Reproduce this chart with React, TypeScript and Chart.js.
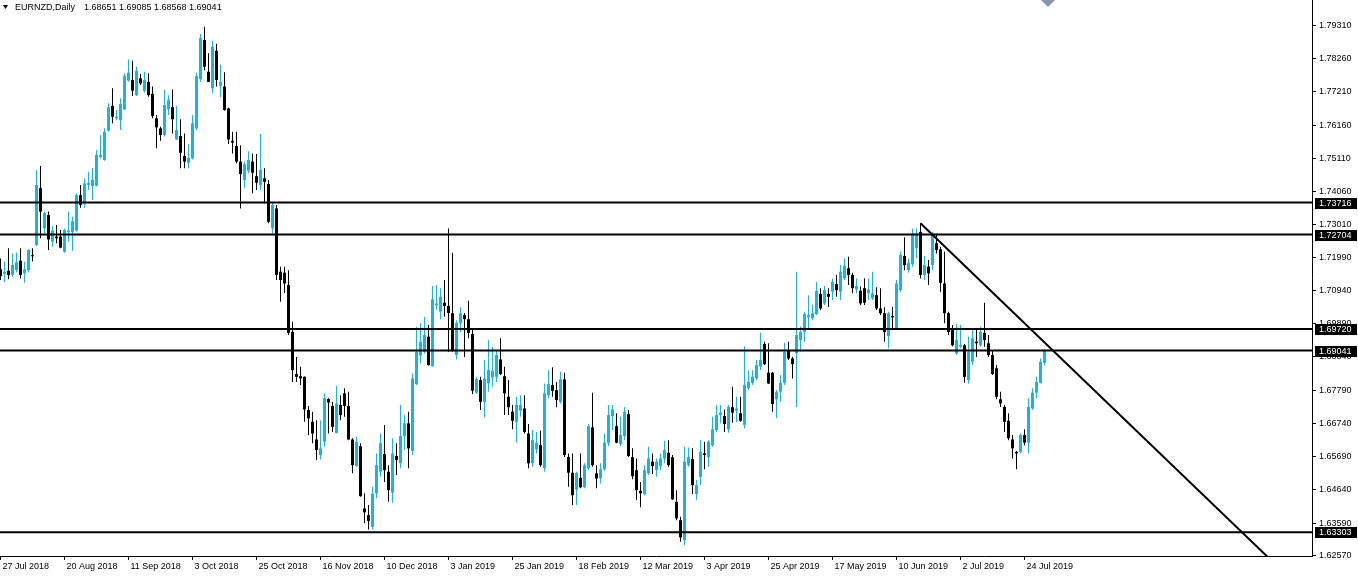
import React, { useEffect, useRef } from 'react';
import { Chart, registerables } from 'chart.js';

Chart.register(...registerables);

const symbolTitle = 'EURNZD,Daily';
const lastQuote = ['1.68651', '1.69085', '1.68568', '1.69041'];

const opens = [
  1.7161, 1.7146, 1.7156, 1.7143, 1.7158, 1.7188, 1.7148, 1.7158, 1.7205, 1.7237,
  1.7417, 1.7290, 1.7332, 1.7248, 1.7264, 1.7264, 1.7216, 1.7278, 1.7279, 1.7283,
  1.7395, 1.7369, 1.7427, 1.7424, 1.7425, 1.7515, 1.7506, 1.7599, 1.7677, 1.7638,
  1.7632, 1.7666, 1.7757, 1.7759, 1.7711, 1.7764, 1.7725, 1.7753, 1.7715, 1.7638,
  1.7606, 1.7585, 1.7666, 1.7673, 1.7571, 1.7582, 1.7519, 1.7497, 1.7511, 1.7606,
  1.7761, 1.7885, 1.7785, 1.7733, 1.7851, 1.7740, 1.7738, 1.7669, 1.7566, 1.7550,
  1.7501, 1.7443, 1.7472, 1.7501, 1.7455, 1.7427, 1.7448, 1.7430, 1.7291, 1.7353,
  1.7153, 1.7150, 1.7111, 1.6963, 1.6830, 1.6823, 1.6821, 1.6716, 1.6679, 1.6623,
  1.6574, 1.6616, 1.6751, 1.6729, 1.6644, 1.6732, 1.6769, 1.6729, 1.6623, 1.6539,
  1.6602, 1.6405, 1.6384, 1.6347, 1.6453, 1.6521, 1.6577, 1.6521, 1.6455, 1.6571,
  1.6548, 1.6634, 1.6674, 1.6587, 1.6798, 1.6888, 1.6900, 1.6948, 1.6855, 1.7047,
  1.7027, 1.7055, 1.7045, 1.7022, 1.6890, 1.6990, 1.7016, 1.7003, 1.6956, 1.6771,
  1.6811, 1.6742, 1.6800, 1.6819, 1.6821, 1.6876, 1.6823, 1.6758, 1.6711, 1.6679,
  1.6714, 1.6721, 1.6642, 1.6548, 1.6592, 1.6605, 1.6532, 1.6763, 1.6795, 1.6779,
  1.6742, 1.6813, 1.6568, 1.6518, 1.6465, 1.6502, 1.6472, 1.6532, 1.6661, 1.6516,
  1.6500, 1.6529, 1.6611, 1.6697, 1.6665, 1.6609, 1.6634, 1.6703, 1.6567, 1.6526,
  1.6461, 1.6451, 1.6516, 1.6553, 1.6526, 1.6539, 1.6563, 1.6581, 1.6567, 1.6426,
  1.6368, 1.6305, 1.6542, 1.6561, 1.6451, 1.6505, 1.6579, 1.6567, 1.6605, 1.6653,
  1.6700, 1.6697, 1.6655, 1.6725, 1.6714, 1.6706, 1.6669, 1.6785, 1.6802, 1.6816,
  1.6853, 1.6925, 1.6834, 1.6834, 1.6750, 1.6774, 1.6802, 1.6903, 1.6879, 1.6895,
  1.6937, 1.6963, 1.7009, 1.7006, 1.7019, 1.7083, 1.7053, 1.7083, 1.7090, 1.7114,
  1.7090, 1.7132, 1.7164, 1.7143, 1.7097, 1.7093, 1.7101, 1.7085, 1.7069, 1.7079,
  1.7037, 1.7022, 1.6950, 1.7013, 1.6974, 1.7095, 1.7203, 1.7158, 1.7177, 1.7227,
  1.7279, 1.7143, 1.7169, 1.7174, 1.7243, 1.7224, 1.7116, 1.7022, 1.6969, 1.6895,
  1.6916, 1.6921, 1.6811, 1.6869, 1.6932, 1.6921, 1.6960, 1.6927, 1.6890, 1.6848,
  1.6750, 1.6726, 1.6682, 1.6623, 1.6584, 1.6584, 1.6637, 1.6613, 1.6721, 1.6771,
  1.6802, 1.68651,
];

const highs = [
  1.7195, 1.7185, 1.7227, 1.7211, 1.7214, 1.7227, 1.7185, 1.7224, 1.7227, 1.7474,
  1.7487, 1.7343, 1.7343, 1.7297, 1.7301, 1.7285, 1.7290, 1.7343, 1.7327, 1.7401,
  1.7427, 1.7448, 1.7469, 1.7480, 1.7538, 1.7585, 1.7606, 1.7685, 1.7733, 1.7664,
  1.7701, 1.7780, 1.7824, 1.7820, 1.7801, 1.7778, 1.7785, 1.7780, 1.7738, 1.7648,
  1.7611, 1.7727, 1.7711, 1.7729, 1.7677, 1.7635, 1.7590, 1.7556, 1.7648, 1.7782,
  1.7904, 1.7927, 1.7843, 1.7883, 1.7873, 1.7806, 1.7783, 1.7671, 1.7595, 1.7595,
  1.7553, 1.7501, 1.7534, 1.7527, 1.7525, 1.7588, 1.7480, 1.7443, 1.7371, 1.7364,
  1.7169, 1.7169, 1.7158, 1.6995, 1.6884, 1.6853, 1.6823, 1.6729, 1.6711, 1.6684,
  1.6684, 1.6769, 1.6753, 1.6742, 1.6792, 1.6763, 1.6785, 1.6774, 1.6627, 1.6632,
  1.6611, 1.6453, 1.6416, 1.6474, 1.6579, 1.6642, 1.6669, 1.6542, 1.6627, 1.6611,
  1.6732, 1.6700, 1.6711, 1.6832, 1.6979, 1.6990, 1.7011, 1.6985, 1.7108, 1.7111,
  1.7101, 1.7127, 1.7290, 1.7213, 1.7000, 1.7041, 1.7023, 1.7061, 1.6969, 1.6821,
  1.6821, 1.6874, 1.6937, 1.6916, 1.6906, 1.6943, 1.6853, 1.6811, 1.6732, 1.6758,
  1.6763, 1.6763, 1.6672, 1.6653, 1.6647, 1.6651, 1.6800, 1.6842, 1.6851, 1.6805,
  1.6837, 1.6834, 1.6579, 1.6579, 1.6521, 1.6579, 1.6548, 1.6672, 1.6771, 1.6542,
  1.6548, 1.6642, 1.6732, 1.6732, 1.6706, 1.6695, 1.6726, 1.6716, 1.6595, 1.6563,
  1.6489, 1.6542, 1.6600, 1.6579, 1.6563, 1.6579, 1.6619, 1.6621, 1.6574, 1.6463,
  1.6379, 1.6600, 1.6598, 1.6595, 1.6495, 1.6621, 1.6616, 1.6621, 1.6695, 1.6732,
  1.6732, 1.6718, 1.6732, 1.6790, 1.6758, 1.6758, 1.6918, 1.6840, 1.6842, 1.6874,
  1.6960, 1.6932, 1.6927, 1.6836, 1.6779, 1.6827, 1.6929, 1.6932, 1.6884, 1.7153,
  1.6981, 1.7027, 1.7079, 1.7048, 1.7121, 1.7101, 1.7108, 1.7101, 1.7132, 1.7143,
  1.7174, 1.7195, 1.7200, 1.7150, 1.7132, 1.7106, 1.7132, 1.7132, 1.7153, 1.7104,
  1.7101, 1.7041, 1.7027, 1.7042, 1.7127, 1.7216, 1.7262, 1.7195, 1.7290, 1.7290,
  1.7306, 1.7203, 1.7190, 1.7279, 1.7274, 1.7232, 1.7216, 1.7027, 1.6985, 1.6988,
  1.6985, 1.6925, 1.6948, 1.6974, 1.6969, 1.6979, 1.7055, 1.6953, 1.6906, 1.6858,
  1.6774, 1.6732, 1.6706, 1.6637, 1.6587, 1.6642, 1.6655, 1.6753, 1.6785, 1.6821,
  1.6879, 1.69085,
];

const lows = [
  1.7127, 1.7121, 1.7129, 1.7137, 1.7151, 1.7132, 1.7118, 1.7151, 1.7185, 1.7234,
  1.7259, 1.7274, 1.7222, 1.7232, 1.7243, 1.7227, 1.7213, 1.7248, 1.7219, 1.7279,
  1.7355, 1.7355, 1.7411, 1.7380, 1.7422, 1.7511, 1.7504, 1.7595, 1.7622, 1.7632,
  1.7601, 1.7664, 1.7753, 1.7708, 1.7708, 1.7743, 1.7719, 1.7706, 1.7638, 1.7543,
  1.7567, 1.7580, 1.7648, 1.7590, 1.7569, 1.7480, 1.7480, 1.7480, 1.7508, 1.7601,
  1.7753, 1.7790, 1.7753, 1.7717, 1.7738, 1.7704, 1.7662, 1.7557, 1.7527, 1.7496,
  1.7353, 1.7417, 1.7464, 1.7401, 1.7411, 1.7411, 1.7369, 1.7306, 1.7274, 1.7127,
  1.7058, 1.7086, 1.6953, 1.6805, 1.6805, 1.6795, 1.6679, 1.6637, 1.6611, 1.6558,
  1.6560, 1.6600, 1.6642, 1.6647, 1.6642, 1.6684, 1.6695, 1.6621, 1.6516, 1.6537,
  1.6442, 1.6358, 1.6339, 1.6339, 1.6437, 1.6505, 1.6489, 1.6426, 1.6423, 1.6511,
  1.6532, 1.6590, 1.6532, 1.6574, 1.6795, 1.6864, 1.6895, 1.6856, 1.6853, 1.7032,
  1.7003, 1.7011, 1.6900, 1.6900, 1.6876, 1.6963, 1.6884, 1.6943, 1.6767, 1.6767,
  1.6716, 1.6693, 1.6774, 1.6790, 1.6805, 1.6827, 1.6700, 1.6700, 1.6655, 1.6613,
  1.6695, 1.6642, 1.6532, 1.6537, 1.6579, 1.6537, 1.6521, 1.6753, 1.6758, 1.6725,
  1.6737, 1.6568, 1.6474, 1.6416, 1.6416, 1.6469, 1.6469, 1.6526, 1.6537, 1.6469,
  1.6484, 1.6524, 1.6602, 1.6653, 1.6611, 1.6602, 1.6621, 1.6568, 1.6497, 1.6432,
  1.6409, 1.6447, 1.6511, 1.6514, 1.6505, 1.6526, 1.6548, 1.6537, 1.6432, 1.6368,
  1.6300, 1.6289, 1.6537, 1.6451, 1.6432, 1.6479, 1.6529, 1.6537, 1.6600, 1.6647,
  1.6674, 1.6647, 1.6644, 1.6676, 1.6679, 1.6679, 1.6658, 1.6779, 1.6795, 1.6811,
  1.6842, 1.6858, 1.6798, 1.6711, 1.6690, 1.6742, 1.6795, 1.6874, 1.6816, 1.6726,
  1.6900, 1.6932, 1.6969, 1.7000, 1.7016, 1.7032, 1.7048, 1.7042, 1.7064, 1.7074,
  1.7064, 1.7127, 1.7111, 1.7085, 1.7085, 1.7048, 1.7048, 1.7064, 1.7064, 1.7032,
  1.7016, 1.6932, 1.6911, 1.6974, 1.6969, 1.7090, 1.7158, 1.7151, 1.7169, 1.7195,
  1.7132, 1.7127, 1.7111, 1.7158, 1.7211, 1.7090, 1.6990, 1.6953, 1.6918, 1.6890,
  1.6911, 1.6802, 1.6800, 1.6858, 1.6884, 1.6916, 1.6916, 1.6884, 1.6827, 1.6750,
  1.6726, 1.6647, 1.6621, 1.6563, 1.6529, 1.6579, 1.6605, 1.6579, 1.6716, 1.6753,
  1.6800, 1.68568,
];

const closes = [
  1.7139, 1.7153, 1.7143, 1.7174, 1.7183, 1.7143, 1.7161, 1.7222, 1.7202, 1.7427,
  1.7343, 1.7338, 1.7255, 1.7283, 1.7259, 1.7229, 1.7285, 1.7283, 1.7313, 1.7395,
  1.7364, 1.7432, 1.7434, 1.7443, 1.7522, 1.7522, 1.7595, 1.7673, 1.7643, 1.7643,
  1.7683, 1.7771, 1.7782, 1.7725, 1.7788, 1.7748, 1.7759, 1.7711, 1.7645, 1.7609,
  1.7585, 1.7680, 1.7696, 1.7635, 1.7601, 1.7529, 1.7501, 1.7513, 1.7622, 1.7771,
  1.7891, 1.7801, 1.7753, 1.7864, 1.7759, 1.7753, 1.7664, 1.7571, 1.7561, 1.7501,
  1.7462, 1.7493, 1.7506, 1.7466, 1.7434, 1.7474, 1.7437, 1.7311, 1.7364, 1.7143,
  1.7127, 1.7116, 1.6960, 1.6842, 1.6821, 1.6816, 1.6718, 1.6690, 1.6642, 1.6590,
  1.6595, 1.6753, 1.6740, 1.6663, 1.6737, 1.6700, 1.6729, 1.6623, 1.6542, 1.6616,
  1.6444, 1.6393, 1.6366, 1.6451, 1.6542, 1.6611, 1.6526, 1.6463, 1.6579, 1.6558,
  1.6634, 1.6674, 1.6595, 1.6816, 1.6900, 1.6932, 1.6953, 1.6858, 1.7066, 1.7053,
  1.7074, 1.7045, 1.7023, 1.6906, 1.6992, 1.7022, 1.7003, 1.6960, 1.6777, 1.6814,
  1.6742, 1.6816, 1.6842, 1.6840, 1.6890, 1.6830, 1.6769, 1.6725, 1.6682, 1.6732,
  1.6732, 1.6647, 1.6548, 1.6621, 1.6613, 1.6542, 1.6769, 1.6798, 1.6777, 1.6748,
  1.6813, 1.6574, 1.6518, 1.6447, 1.6518, 1.6472, 1.6542, 1.6665, 1.6542, 1.6500,
  1.6529, 1.6613, 1.6700, 1.6718, 1.6613, 1.6637, 1.6711, 1.6571, 1.6507, 1.6463,
  1.6453, 1.6526, 1.6563, 1.6539, 1.6553, 1.6563, 1.6590, 1.6542, 1.6434, 1.6374,
  1.6314, 1.6553, 1.6568, 1.6479, 1.6479, 1.6584, 1.6574, 1.6616, 1.6655, 1.6700,
  1.6708, 1.6672, 1.6726, 1.6708, 1.6721, 1.6682, 1.6795, 1.6805, 1.6821, 1.6858,
  1.6874, 1.6861, 1.6800, 1.6735, 1.6774, 1.6802, 1.6900, 1.6879, 1.6861, 1.6953,
  1.6963, 1.7019, 1.7016, 1.7022, 1.7093, 1.7037, 1.7095, 1.7074, 1.7121, 1.7095,
  1.7153, 1.7172, 1.7143, 1.7101, 1.7108, 1.7053, 1.7055, 1.7097, 1.7085, 1.7037,
  1.7022, 1.6963, 1.7022, 1.7009, 1.7116, 1.7206, 1.7174, 1.7181, 1.7274, 1.7274,
  1.7143, 1.7174, 1.7148, 1.7274, 1.7222, 1.7118, 1.7022, 1.6963, 1.6921, 1.6937,
  1.6921, 1.6821, 1.6900, 1.6943, 1.6927, 1.6963, 1.6937, 1.6890, 1.6830, 1.6758,
  1.6737, 1.6679, 1.6627, 1.6595, 1.6579, 1.6637, 1.6613, 1.6726, 1.6771, 1.6805,
  1.6869, 1.69041,
];

const dateTickIndex = [0, 16, 32, 48, 64, 80, 96, 112, 128, 144, 160, 176, 192, 208, 224, 240, 256];
const dateTickLabels = [
  '27 Jul 2018', '20 Aug 2018', '11 Sep 2018', '3 Oct 2018', '25 Oct 2018', '16 Nov 2018',
  '10 Dec 2018', '3 Jan 2019', '25 Jan 2019', '18 Feb 2019', '12 Mar 2019', '3 Apr 2019',
  '25 Apr 2019', '17 May 2019', '10 Jun 2019', '2 Jul 2019', '24 Jul 2019',
];
const priceTicks = [
  1.7931, 1.7826, 1.7721, 1.7616, 1.7511, 1.7406, 1.7301, 1.7199, 1.7094,
  1.6989, 1.6884, 1.6779, 1.6674, 1.6569, 1.6464, 1.6359, 1.6257,
];
const levelPrices = [1.73716, 1.72704, 1.6972, 1.69041, 1.63303];
const trendIndex = [230, 320];
const trendPrice = [1.7306, 1.6213];

const priceMin = 1.62549;
const priceMax = 1.80116;
const barMin = -0.125;
const barMax = 327.875;

const BULL = '#1fb0e6';
const BEAR = '#000000';
const FONT = '"Liberation Sans", Arial, sans-serif';

const overlayPlugin = {
  id: 'mt4Overlay',
  afterDraw(chart: any) {
    const { ctx, chartArea, scales } = chart;
    const yS = scales.y;
    ctx.save();
    ctx.font = `9px ${FONT}`;
    ctx.textBaseline = 'middle';
    ctx.textAlign = 'left';
    // price tags for horizontal levels
    levelPrices.forEach((lv) => {
      const py = Math.round(yS.getPixelForValue(lv));
      ctx.fillStyle = '#000';
      ctx.fillRect(chartArea.right + 3, py - 5, 42, 11);
      ctx.fillStyle = '#fff';
      ctx.fillText(lv.toFixed(5), chartArea.right + 7, py + 0.5);
    });
    // header
    ctx.fillStyle = '#000';
    ctx.beginPath();
    ctx.moveTo(3, 5);
    ctx.lineTo(8, 5);
    ctx.lineTo(5.5, 9);
    ctx.closePath();
    ctx.fill();
    ctx.fillText(symbolTitle, 15, 8);
    ctx.fillText(lastQuote.join(' '), 84, 8);
    // chart shift marker
    ctx.fillStyle = '#8a95a5';
    ctx.beginPath();
    ctx.moveTo(1041, 0);
    ctx.lineTo(1055, 0);
    ctx.lineTo(1048, 7);
    ctx.closePath();
    ctx.fill();
    ctx.restore();
  },
};

export default function App() {
  const canvasRef = useRef<HTMLCanvasElement | null>(null);

  useEffect(() => {
    document.body.style.margin = '0';
    const canvas = canvasRef.current;
    if (!canvas) return;
    const colors = opens.map((o, i) => (closes[i] >= o ? BULL : BEAR));
    const wickData = opens.map((_, i) => ({ x: i, y: [lows[i], highs[i]] }));
    const bodyData = opens.map((o, i) => ({ x: i, y: [o, closes[i]] }));

    const levelSets = levelPrices.map((lv) => ({
      type: 'line' as const,
      data: [
        { x: barMin - 2, y: lv },
        { x: barMax + 2, y: lv },
      ],
      borderColor: '#000',
      borderWidth: 2,
      pointRadius: 0,
      clip: 0,
      order: 0,
    }));

    const chart = new Chart(canvas, {
      type: 'bar',
      data: {
        datasets: [
          {
            type: 'bar',
            data: wickData as any,
            backgroundColor: colors,
            borderWidth: 0,
            grouped: false,
            barPercentage: 1,
            categoryPercentage: 1,
            maxBarThickness: 1,
            inflateAmount: 0,
            order: 2,
          } as any,
          {
            type: 'bar',
            data: bodyData as any,
            backgroundColor: colors,
            borderWidth: 0,
            grouped: false,
            barPercentage: 1,
            categoryPercentage: 1,
            maxBarThickness: 3,
            minBarLength: 1,
            inflateAmount: 0,
            order: 1,
          } as any,
          ...(levelSets as any[]),
          {
            type: 'line',
            data: [
              { x: trendIndex[0], y: trendPrice[0] },
              { x: trendIndex[1], y: trendPrice[1] },
            ],
            borderColor: '#000',
            borderWidth: 2,
            pointRadius: 0,
            clip: 0,
            order: 0,
          } as any,
        ],
      },
      options: {
        responsive: false,
        maintainAspectRatio: false,
        animation: false,
        devicePixelRatio: 1,
        events: [],
        layout: { padding: 0 },
        plugins: {
          legend: { display: false },
          tooltip: { enabled: false },
          title: { display: false },
        },
        scales: {
          x: {
            type: 'linear',
            position: 'bottom',
            min: barMin,
            max: barMax,
            offset: false,
            afterBuildTicks: (s: any) => {
              s.ticks = dateTickIndex.map((v) => ({ value: v }));
            },
            afterFit: (s: any) => {
              s.height = 21;
              s.paddingLeft = 0;
              s.paddingRight = 0;
            },
            ticks: {
              autoSkip: false,
              maxRotation: 0,
              minRotation: 0,
              align: 'start',
              padding: 1,
              labelOffset: 2,
              color: '#000',
              font: { family: FONT, size: 9 },
              callback: (_v: any, i: number) => dateTickLabels[i],
            },
            grid: {
              display: true,
              offset: false,
              drawOnChartArea: false,
              drawTicks: true,
              tickLength: 4,
              color: '#000',
            },
            border: { display: true, color: '#000', width: 1 },
          } as any,
          y: {
            type: 'linear',
            position: 'right',
            min: priceMin,
            max: priceMax,
            beginAtZero: false,
            afterBuildTicks: (s: any) => {
              s.ticks = priceTicks.map((v) => ({ value: v }));
            },
            afterFit: (s: any) => {
              s.width = 46;
              s.paddingTop = 0;
              s.paddingBottom = 0;
            },
            ticks: {
              autoSkip: false,
              padding: 3,
              color: '#000',
              font: { family: FONT, size: 9 },
              callback: (v: any) => Number(v).toFixed(5),
            },
            grid: {
              display: true,
              drawOnChartArea: false,
              drawTicks: true,
              tickLength: 4,
              color: '#000',
            },
            border: { display: true, color: '#000', width: 1 },
          } as any,
        },
      },
      plugins: [overlayPlugin],
    });

    return () => {
      chart.destroy();
    };
  }, []);

  return (
    <div style={{ width: 1358, height: 577, background: '#fff' }}>
      <canvas ref={canvasRef} width={1358} height={577} style={{ display: 'block' }} />
    </div>
  );
}
